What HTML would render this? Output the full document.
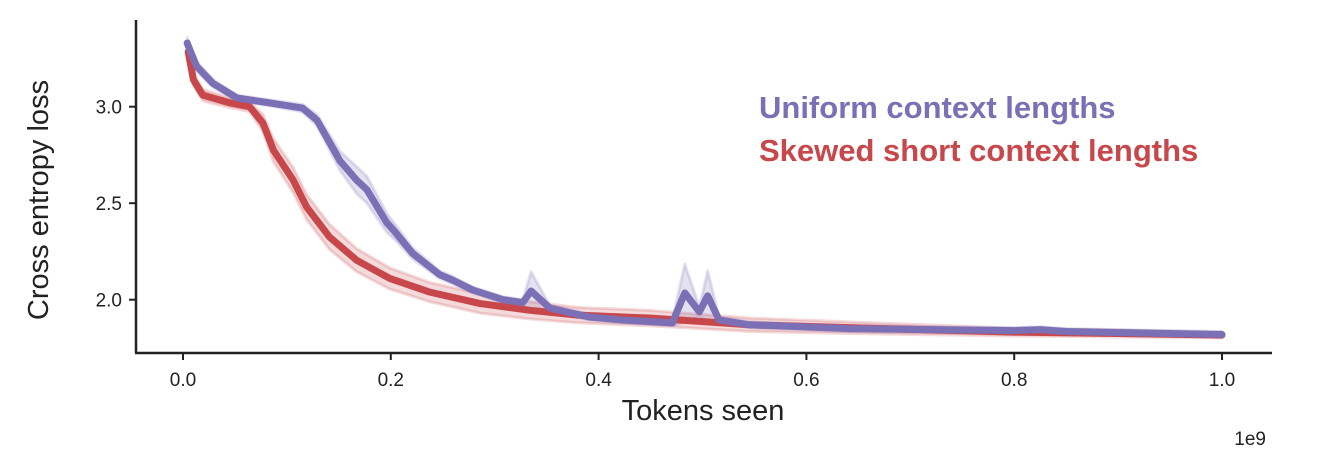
<!DOCTYPE html>
<html><head><meta charset="utf-8"><style>
body{margin:0;background:#fff;}
svg{display:block;font-family:"Liberation Sans",sans-serif;}
</style></head><body>
<svg id="chart" width="1320" height="464"></svg>
<script>
const ticksX=[0,0.2,0.4,0.6,0.8,1.0];
const tickLabelsX=["0.0","0.2","0.4","0.6","0.8","1.0"];
const ticksY=[2.0,2.5,3.0];
const tickLabelsY=["2.0","2.5","3.0"];
const redX=[0.005,0.01,0.019,0.045,0.064,0.077,0.087,0.106,0.119,0.141,0.167,0.199,0.237,0.286,0.334,0.38,0.449,0.545,0.641,0.8,1.0];
const redY=[3.285,3.14,3.06,3.02,3.0,2.915,2.775,2.62,2.48,2.325,2.205,2.11,2.04,1.98,1.945,1.92,1.905,1.87,1.855,1.832,1.817];
const redBand=[0.03,0.03,0.03,0.025,0.025,0.045,0.06,0.065,0.065,0.065,0.06,0.055,0.05,0.05,0.045,0.04,0.04,0.035,0.03,0.02,0.015];
const purX=[0.004,0.013,0.029,0.052,0.077,0.115,0.129,0.151,0.167,0.177,0.196,0.205,0.221,0.247,0.26,0.279,0.308,0.327,0.335,0.353,0.369,0.391,0.423,0.471,0.483,0.497,0.505,0.516,0.545,0.641,0.8,0.825,0.85,1.0];
const purY=[3.33,3.21,3.12,3.045,3.025,2.993,2.93,2.72,2.62,2.57,2.40,2.345,2.24,2.13,2.10,2.05,2.0,1.985,2.045,1.957,1.937,1.91,1.895,1.88,2.035,1.937,2.02,1.895,1.87,1.85,1.84,1.845,1.835,1.82];
const purBand=[0.03,0.025,0.02,0.015,0.015,0.02,0.03,0.05,0.07,0.07,0.05,0.04,0.03,0.02,0.02,0.015,0.015,0.015,0.1,0.015,0.015,0.015,0.015,0.015,0.15,0.025,0.13,0.015,0.015,0.015,0.015,0.015,0.015,0.015];

const NS="http://www.w3.org/2000/svg";
const svg=document.getElementById('chart');
const X=v=>183+v*1039;
const Y=l=>106.7+(3-l)*193;
function mk(t,a,txt){const e=document.createElementNS(NS,t);for(const k in a)e.setAttribute(k,a[k]);if(txt!==undefined)e.textContent=txt;svg.appendChild(e);return e;}
function band(xs,ys,bs,fill,name){
  let d="M"+xs.map((x,i)=>X(x)+","+Y(ys[i]+bs[i])).join("L");
  for(let i=xs.length-1;i>=0;i--)d+="L"+X(xs[i])+","+Y(ys[i]-bs[i]);
  const p=mk('path',{d:d+"Z",fill:fill,stroke:fill,'stroke-width':3,'stroke-linejoin':'round'});
  
  
}
function line(xs,ys,col,name){
  const p=mk('path',{d:"M"+xs.map((x,i)=>X(x)+","+Y(ys[i])).join("L"),fill:'none',stroke:col,'stroke-width':7,'stroke-linejoin':'round','stroke-linecap':'round'});
  
  
}
band(redX,redY,redBand,'rgba(200,71,74,0.2)','skewed-band');
band(purX,purY,purBand,'rgba(123,111,181,0.2)','uniform-band');
line(redX,redY,'#c8474a','skewed-line');
line(purX,purY,'#7b6fb5','uniform-line');
let a=mk('line',{x1:136,y1:20,x2:136,y2:353,stroke:'#222','stroke-width':2.5});

a=mk('line',{x1:135,y1:353,x2:1272,y2:353,stroke:'#222','stroke-width':2.5});

ticksX.forEach((v,i)=>{
  mk('line',{x1:X(v),y1:353,x2:X(v),y2:360,stroke:'#222','stroke-width':2});
  const t=mk('text',{x:X(v),y:386,'text-anchor':'middle','font-size':19,fill:'#222'},tickLabelsX[i]);
  
});
ticksY.forEach((v,i)=>{
  mk('line',{x1:129,y1:Y(v),x2:136,y2:Y(v),stroke:'#222','stroke-width':2});
  const t=mk('text',{x:122,y:Y(v)+7,'text-anchor':'end','font-size':19,fill:'#222'},tickLabelsY[i]);
  
});
let t=mk('text',{x:703,y:420,'text-anchor':'middle','font-size':29,fill:'#222'},'Tokens seen');

t=mk('text',{x:48,y:200,'text-anchor':'middle','font-size':29,fill:'#222',transform:'rotate(-90 48 200)'},'Cross entropy loss');

t=mk('text',{x:1266,y:445,'text-anchor':'end','font-size':19,fill:'#222'},'1e9');

t=mk('text',{x:759,y:118,'font-size':31,'font-weight':'bold',fill:'#7b6fb5'},'Uniform context lengths');

t=mk('text',{x:759,y:161,'font-size':31,'font-weight':'bold',fill:'#c8474a'},'Skewed short context lengths');

</script>
</body></html>
